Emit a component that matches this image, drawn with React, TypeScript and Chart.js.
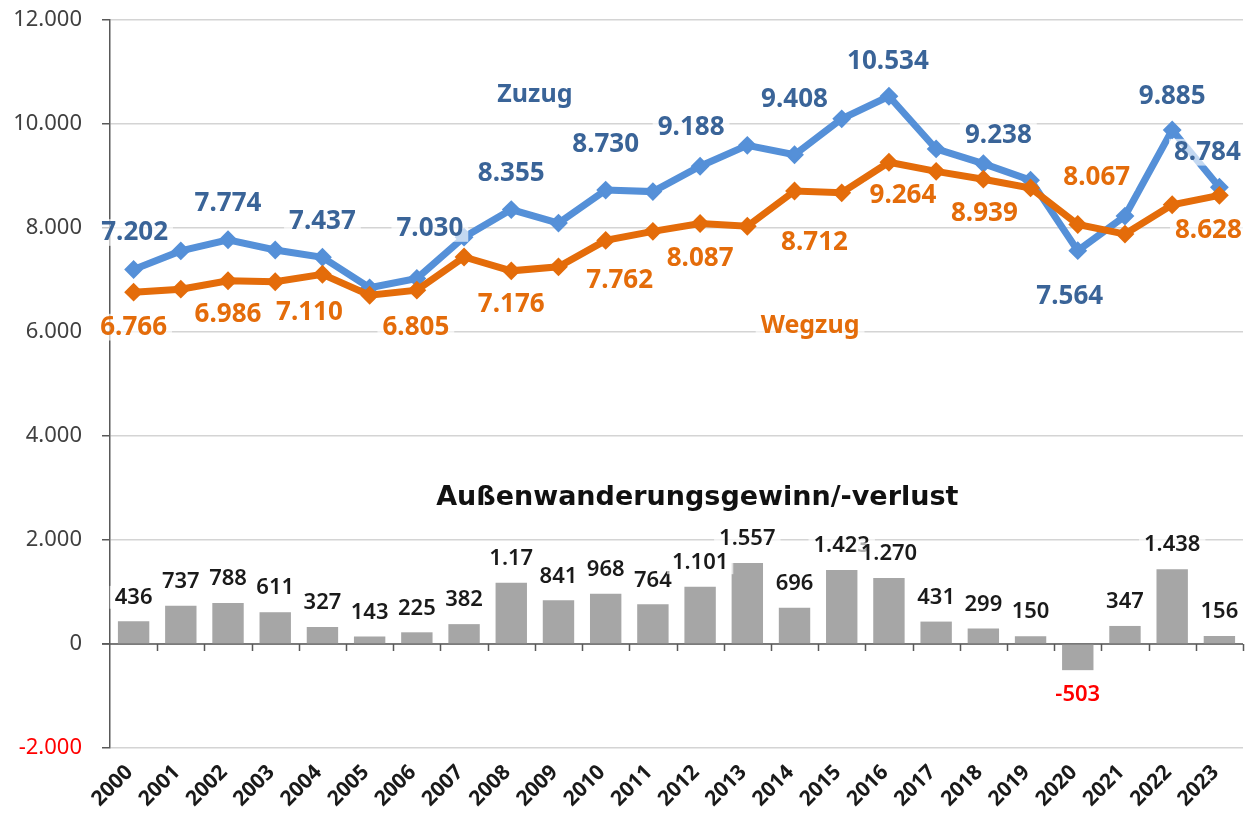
import React, { useEffect, useRef } from 'react';
import { Chart, registerables } from 'chart.js';

Chart.register(...registerables);

// ---- data ----
const years = ['2000', '2001', '2002', '2003', '2004', '2005', '2006', '2007', '2008', '2009', '2010', '2011', '2012', '2013', '2014', '2015', '2016', '2017', '2018', '2019', '2020', '2021', '2022', '2023'];
const zuzug = [7202, 7560, 7774, 7577, 7437, 6850, 7030, 7824, 8355, 8095, 8730, 8700, 9188, 9590, 9408, 10100, 10534, 9520, 9238, 8920, 7564, 8230, 9885, 8784];
const wegzug = [6766, 6823, 6986, 6966, 7110, 6707, 6805, 7442, 7176, 7254, 7762, 7936, 8087, 8033, 8712, 8677, 9264, 9089, 8939, 8770, 8067, 7883, 8447, 8628];
const saldo = [436, 737, 788, 611, 327, 143, 225, 382, 1179, 841, 968, 764, 1101, 1557, 696, 1423, 1270, 431, 299, 150, -503, 347, 1438, 156];
// label text shown clipped in the original for 2008
const saldoLabelOverride: Record<number, string> = { 8: '1.17' };

const yMin = -2000;
const yMax = 12000;
const yStep = 2000;

const barTitle = 'Außenwanderungsgewinn/-verlust';
const zuzugName = 'Zuzug';
const wegzugName = 'Wegzug';

// ---- label placement (pixel offsets from the point) ----
type Off = [number, number] | null;
const zuzugLabelOffsets: Off[] = [
  [1, -37], null, [0, -36], null, [0, -36], null, [13, -50], null, [0, -36], null, [0, -45], null,
  [-9, -39], null, [0, -55], null, [-1, -35], null, [15, -28], null, [-8, 46], null, [0, -33], [-12, -35],
];
const wegzugLabelOffsets: Off[] = [
  [0, 35], null, [0, 34], null, [-13, 38], null, [-1, 37], null, [0, 34], null, [14, 40], null,
  [0, 35], null, [20, 52], null, [14, 33], null, [1, 34], null, [19, -47], null, null, [-11, 35],
];
// anchors in data space (category index, value) for text annotations
const zuzugNameAnchor: [number, number] = [8.5, 10560];
const wegzugNameAnchor: [number, number] = [14.33, 6115];
const barTitleAnchor: [number, number] = [11.94, 2800];

// ---- style ----
const BLUE = '#5590D8';
const BLUE_TEXT = '#3A6498';
const ORANGE = '#E46C0A';
const BAR = '#A6A6A6';
const AXIS = '#595959';
const GRID = '#D4D4D4';
const FONT = "'Noto Sans', sans-serif";

function fmt(v: number): string {
  const s = Math.abs(Math.round(v)).toString().replace(/\B(?=(\d{3})+(?!\d))/g, '.');
  return (v < 0 ? '-' : '') + s;
}

function drawBoxedText(
  ctx: CanvasRenderingContext2D,
  text: string,
  x: number,
  y: number,
  size: number,
  weight: string,
  color: string,
  family: string = FONT,
  bg: string = 'rgba(255,255,255,0.65)'
) {
  ctx.font = `${weight} ${size}px ${family}`;
  const w = ctx.measureText(text).width;
  const h = size * 0.95;
  ctx.fillStyle = bg;
  ctx.fillRect(x - w / 2 - 5, y - h / 2 - 1, w + 10, h + 2);
  ctx.fillStyle = color;
  ctx.textAlign = 'center';
  ctx.textBaseline = 'middle';
  ctx.fillText(text, x, y);
}

const zeroLinePlugin = {
  id: 'zeroLine',
  beforeDatasetsDraw(chart: any) {
    const { ctx, chartArea } = chart;
    const x = chart.scales.x;
    const y = chart.scales.y;
    const y0 = y.getPixelForValue(0);
    ctx.save();
    ctx.strokeStyle = AXIS;
    ctx.lineWidth = 1.5;
    ctx.beginPath();
    ctx.moveTo(chartArea.left - 8, y0);
    ctx.lineTo(chartArea.right, y0);
    for (let i = 1; i <= years.length; i++) {
      const xb = Math.round(x.getPixelForValue(i - 0.5)) + 0.5;
      ctx.moveTo(xb, y0);
      ctx.lineTo(xb, y0 + 7);
    }
    ctx.stroke();
    ctx.restore();
  },
};

const labelsPlugin = {
  id: 'valueLabels',
  afterDatasetsDraw(chart: any) {
    const { ctx } = chart;
    const x = chart.scales.x;
    const y = chart.scales.y;
    ctx.save();
    // bar labels
    saldo.forEach((v, i) => {
      const px = x.getPixelForValue(i);
      const py = y.getPixelForValue(v);
      const text = saldoLabelOverride[i] ?? fmt(v);
      const ly = v >= 0 ? py - 24 : py + 25;
      drawBoxedText(ctx, text, px, ly, 22, '600', v < 0 ? '#FF0000' : '#1A1A1A');
    });
    // line labels
    zuzug.forEach((v, i) => {
      const off = zuzugLabelOffsets[i];
      if (!off) return;
      drawBoxedText(ctx, fmt(v), x.getPixelForValue(i) + off[0], y.getPixelForValue(v) + off[1], 26, 'bold', BLUE_TEXT);
    });
    wegzug.forEach((v, i) => {
      const off = wegzugLabelOffsets[i];
      if (!off) return;
      drawBoxedText(ctx, fmt(v), x.getPixelForValue(i) + off[0], y.getPixelForValue(v) + off[1], 26, 'bold', ORANGE);
    });
    // series names
    drawBoxedText(ctx, zuzugName, x.getPixelForValue(zuzugNameAnchor[0]), y.getPixelForValue(zuzugNameAnchor[1]), 25, 'bold', BLUE_TEXT);
    drawBoxedText(ctx, wegzugName, x.getPixelForValue(wegzugNameAnchor[0]), y.getPixelForValue(wegzugNameAnchor[1]), 25, 'bold', ORANGE);
    // bar title
    drawBoxedText(ctx, barTitle, x.getPixelForValue(barTitleAnchor[0]), y.getPixelForValue(barTitleAnchor[1]), 27, 'bold', '#111111', "'DejaVu Sans', sans-serif", 'rgba(255,255,255,0)');
    ctx.restore();
  },
};

export default function App() {
  const canvasRef = useRef<HTMLCanvasElement | null>(null);

  useEffect(() => {
    document.body.style.margin = '0';
    const canvas = canvasRef.current;
    if (!canvas) return;
    const chart = new Chart(canvas, {
      type: 'bar',
      data: {
        labels: years,
        datasets: [
          {
            type: 'line',
            label: wegzugName,
            data: wegzug,
            borderColor: ORANGE,
            backgroundColor: ORANGE,
            borderWidth: 7,
            pointStyle: 'rectRot',
            pointRadius: 8,
            pointBorderWidth: 2,
            pointBackgroundColor: ORANGE,
            pointBorderColor: ORANGE,
            tension: 0,
          } as any,
          {
            type: 'line',
            label: zuzugName,
            data: zuzug,
            borderColor: BLUE,
            backgroundColor: BLUE,
            borderWidth: 7,
            pointStyle: 'rectRot',
            pointRadius: 8,
            pointBorderWidth: 2,
            pointBackgroundColor: BLUE,
            pointBorderColor: BLUE,
            tension: 0,
          } as any,
          {
            type: 'bar',
            label: barTitle,
            data: saldo,
            backgroundColor: BAR,
            categoryPercentage: 1,
            barPercentage: 0.665,
          } as any,
        ],
      },
      options: {
        animation: false,
        responsive: true,
        maintainAspectRatio: false,
        layout: { padding: { top: 20, right: 13, left: 0, bottom: 0 } },
        plugins: {
          legend: { display: false },
          tooltip: { enabled: false },
        },
        scales: {
          x: {
            offset: true,
            grid: { display: false },
            border: { display: false },
            ticks: {
              minRotation: 45,
              maxRotation: 45,
              autoSkip: false,
              padding: 4,
              labelOffset: -4,
              color: '#1A1A1A',
              font: { family: FONT, size: 21, weight: 'bold' },
            },
            afterFit: (s: any) => {
              s.height = 66;
            },
          },
          y: {
            min: yMin,
            max: yMax,
            ticks: {
              stepSize: yStep,
              padding: 20,
              color: (c: any) => (c.tick && c.tick.value < 0 ? '#FF0000' : '#404040'),
              font: { family: FONT, size: 22 },
              callback: (v: any) => fmt(Number(v)),
            },
            grid: {
              color: GRID,
              lineWidth: 1.5,
              tickColor: AXIS,
              tickLength: 8,
            },
            border: { color: AXIS, width: 1.5 },
            afterFit: (s: any) => {
              s.width = 110;
              s.paddingTop = 0;
              s.paddingBottom = 0;
            },
          },
        },
      },
      plugins: [zeroLinePlugin, labelsPlugin],
    });
    return () => chart.destroy();
  }, []);

  return (
    <div style={{ width: 1256, height: 814, position: 'relative' }}>
      <canvas ref={canvasRef} />
    </div>
  );
}
